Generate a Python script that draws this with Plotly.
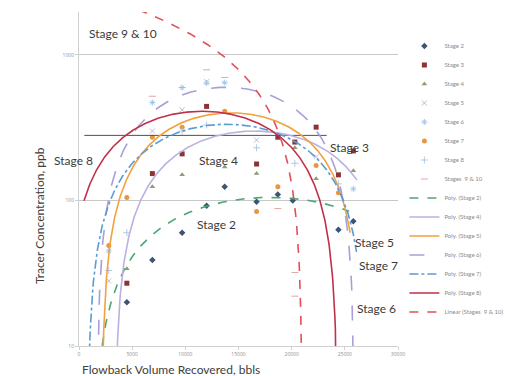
import numpy as np
import plotly.graph_objects as go

# ---------------- data ----------------
stage2_vol = [4500, 6900, 9700, 12000, 13700, 16700, 18700, 20100, 24400, 25800]
stage2_ppb = [20, 39, 60, 92, 124, 98, 110, 100, 63, 72]

stage3_vol = [4500, 6900, 9700, 12000, 16700, 18700, 20300, 22300, 24400, 25800]
stage3_ppb = [27, 153, 209, 443, 178, 272, 252, 319, 150, 219]

stage4_vol = [4500, 6900, 9700, 13700, 16700, 20300, 22300, 25800]
stage4_ppb = [34, 124, 150, 170, 153, 230, 141, 160]

stage5_vol = [2800, 6900, 9700, 12000, 16700, 22300]
stage5_ppb = [28, 300, 420, 655, 260, 200]

stage6_vol = [2800, 6900, 9700, 12000, 13700, 25800]
stage6_ppb = [45, 471, 597, 640, 645, 120]

stage7_vol = [2800, 4500, 6900, 9700, 13700, 16700, 18700, 22300, 24400]
stage7_ppb = [49, 105, 272, 319, 410, 84, 124, 174, 113]

stage8_vol = [2800, 4500, 9700, 12000, 16700, 20300, 24400]
stage8_ppb = [33, 60, 300, 330, 230, 180, 130]

stage910_vol = [6900, 9700, 12000, 13700, 18700, 20300, 20300]
stage910_ppb = [520, 597, 790, 700, 88, 32, 22]

# horizontal Stage 3 line
stage3_line_vol = [500, 23300]
stage3_line_ppb = [280, 280]

# polynomial trendlines (vertex volume, vertex ppb, half width to root, drawn span)
trend_names = ["Poly. (Stage 2)", "Poly. (Stage 4)", "Poly. (Stage 5)",
               "Poly. (Stage 6)", "Poly. (Stage 7)", "Poly. (Stage 8)"]
trend_peak_vol = [18000, 16500, 14290, 13800, 13900, 11565]
trend_peak_ppb = [105, 300, 400, 600, 334, 410]
trend_half_width = [16650, 13115, 12159, 12100, 13100, 12750]
trend_start_vol = [1300, 3300, 2100, 1600, 750, 470]
trend_end_vol = [25400, 26140, 25500, 26000, 26100, 24400]
trend_colors = ["#4aa876", "#b9b2e2", "#f2a23c", "#a99fd8", "#5b9bd5", "#c0304a"]
trend_dash = ["dash", "solid", "solid", "longdash", "dashdot", "solid"]

# linear trendline stages 9 & 10
lin_intercept = 2780
lin_slope = -0.1325
lin_span = [4000, 20960]

x_ticks = [0, 5000, 10000, 15000, 20000, 25000, 30000]
x_tick_text = ["0", "5000", "10000", "15000", "20000", "25000", "30000"]
y_ticks = [10, 100, 1000]
y_tick_text = ["10", "100", "1000"]

# ---------------- figure ----------------
fig = go.Figure()

def add_pts(x, y, name, symbol, color, size=5, open_line=False):
    m = dict(symbol=symbol, color=color, size=size)
    if open_line:
        m["line"] = dict(color=color, width=1)
    fig.add_trace(go.Scatter(x=x, y=y, mode="markers", name=name, marker=m))

add_pts(stage2_vol, stage2_ppb, "Stage 2", "diamond", "#3a5575")
add_pts(stage3_vol, stage3_ppb, "Stage 3", "square", "#8c3333")
add_pts(stage4_vol, stage4_ppb, "Stage 4", "triangle-up", "#8f9c72")
add_pts(stage5_vol, stage5_ppb, "Stage 5", "x-thin-open", "#bdb9d3", 5, True)
add_pts(stage6_vol, stage6_ppb, "Stage 6", "asterisk-open", "#a5c8e6", 5, True)
add_pts(stage7_vol, stage7_ppb, "Stage 7", "circle", "#e8963f")
add_pts(stage8_vol, stage8_ppb, "Stage 8", "cross-thin-open", "#b0c9e2", 5, True)
add_pts(stage910_vol, stage910_ppb, "Stages  9 & 10", "line-ew-open", "#e3a6a6", 5, True)

fig.add_trace(go.Scatter(x=stage3_line_vol, y=stage3_line_ppb, mode="lines",
                         line=dict(color="#505050", width=1), showlegend=False,
                         hoverinfo="skip"))

for i, nm in enumerate(trend_names):
    xs = np.linspace(trend_start_vol[i], trend_end_vol[i], 500)
    ys = trend_peak_ppb[i] * (1 - ((xs - trend_peak_vol[i]) / trend_half_width[i]) ** 2)
    ys = [v if v > 0.5 else None for v in ys]
    fig.add_trace(go.Scatter(x=xs, y=ys, mode="lines", name=nm,
                             line=dict(color=trend_colors[i], width=1.6, dash=trend_dash[i])))

xs = np.linspace(lin_span[0], lin_span[1], 300)
ys = lin_intercept + lin_slope * xs
ys = [v if v > 0.5 else None for v in ys]
fig.add_trace(go.Scatter(x=xs, y=ys, mode="lines", name="Linear (Stages  9 & 10)",
                         line=dict(color="#e0505a", width=1.6, dash="dash")))

# ---------------- layout ----------------
L, R, T, B = 79, 131, 12, 30
W, H = 529, 376
pw, ph = W - L - R, H - T - B

def px(xp):
    return (xp - L) / pw

def py(yp):
    return (H - B - yp) / ph

labels = [
    ("Stage 9 & 10", 87, 34),
    ("Stage 8", 52, 160),
    ("Stage 4", 197, 160),
    ("Stage 3", 328, 147),
    ("Stage 2", 195, 224),
    ("Stage 5", 353, 243),
    ("Stage 7", 357, 265),
    ("Stage 6", 355, 308),
]
ann = []
for txt, x0, y0 in labels:
    ann.append(dict(text=txt, x=px(x0), y=py(y0), xref="paper", yref="paper",
                    xanchor="left", yanchor="middle", showarrow=False,
                    font=dict(family="Lato", size=12, color="#3a3a3a")))
ann.append(dict(text="Tracer Concentration, ppb", x=px(40), y=py(216), xref="paper",
                yref="paper", textangle=-90, showarrow=False, xanchor="center",
                yanchor="middle", font=dict(family="Lato", size=12, color="#404040")))
ann.append(dict(text="Flowback Volume Recovered, bbls", x=px(80), y=py(360), xref="paper",
                yref="paper", showarrow=False, xanchor="left", yanchor="top",
                font=dict(family="Lato", size=12, color="#404040")))

fig.update_layout(
    width=W, height=H,
    margin=dict(l=L, r=R, t=T, b=B),
    paper_bgcolor="white", plot_bgcolor="white",
    showlegend=True,
    legend=dict(x=1.02, xanchor="left", y=0.5, yanchor="middle",
                font=dict(family="Lato", size=6, color="#8a8a8a"),
                bgcolor="rgba(0,0,0,0)", itemwidth=30),
    annotations=ann,
    xaxis=dict(range=[0, 30000], tickvals=x_ticks, ticktext=x_tick_text,
               showgrid=False, zeroline=False,
               showline=True, linecolor="#d0d0d0", linewidth=1,
               ticks="outside", ticklen=3, tickcolor="#d0d0d0",
               tickfont=dict(size=5, color="#909090")),
    yaxis=dict(type="log", range=[1, 3.295], tickvals=y_ticks, ticktext=y_tick_text,
               showgrid=True, gridcolor="#c8c8c8", gridwidth=1, zeroline=False,
               showline=True, linecolor="#d0d0d0", linewidth=1,
               ticks="outside", ticklen=3, tickcolor="#d0d0d0",
               tickfont=dict(size=5, color="#909090")),
)

fig.write_html("out.html")
